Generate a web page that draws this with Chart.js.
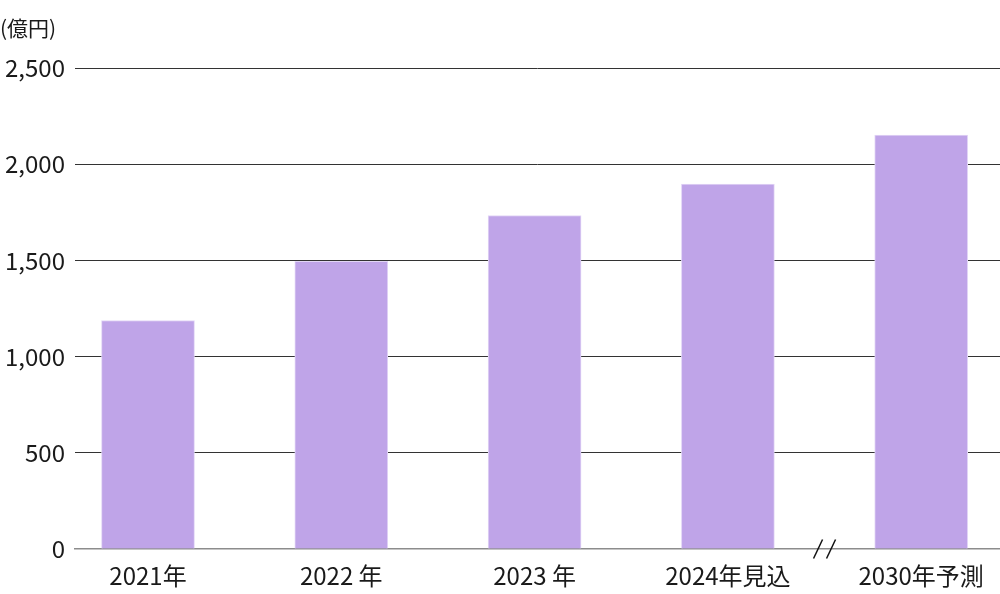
<!DOCTYPE html>
<html>
<head>
<meta charset="utf-8">
<script src="https://cdn.jsdelivr.net/npm/chart.js@4"></script>
<style>
  html, body { margin: 0; padding: 0; background: #fff; overflow: hidden; }
  #wrap { width: 1000px; height: 594px; position: relative; }
</style>
</head>
<body>
<div id="wrap"><canvas id="marketChart"></canvas></div>
<script>
var categories = ['2021年', '2022 年', '2023 年', '2024年見込', '2030年予測'];
var values = [1188, 1496, 1734, 1898, 2152];
var yTicks = [0, 500, 1000, 1500, 2000, 2500];
var unitLabel = '(億円)';

var FONT = "'Noto Sans CJK JP', 'Noto Sans', sans-serif";

// the little "//" mark between 2024 and 2030
var breakMark = {
    id: 'breakMark',
    afterDatasetsDraw: function (chart) {
        var ctx = chart.ctx;
        var cx = chart.scales.x.getPixelForValue(3.5);
        var cy = chart.scales.y.getPixelForValue(0);
        ctx.save();
        ctx.strokeStyle = '#111';
        ctx.lineWidth = 1.5;
        [-6.5, 6.5].forEach(function (dx) {
            ctx.beginPath();
            ctx.moveTo(cx + dx - 4.5, cy + 9.5);
            ctx.lineTo(cx + dx + 4.5, cy - 9.5);
            ctx.stroke();
        });
        ctx.restore();
    }
};

document.addEventListener('DOMContentLoaded', function () {
    var ctx = document.getElementById('marketChart').getContext('2d');

    new Chart(ctx, {
        type: 'bar',
        data: {
            datasets: [{
                data: values.map(function (v, i) { return { x: i, y: v }; }),
                backgroundColor: '#bfa4e8',
                borderColor: '#e2d6f6',
                borderWidth: 1,
                barThickness: 93
            }]
        },
        options: {
            responsive: true,
            maintainAspectRatio: false,
            animation: false,
            locale: 'en-US',
            layout: { padding: { left: 0, right: 0, top: 0, bottom: 0 } },
            plugins: {
                legend: { display: false },
                tooltip: { enabled: false },
                title: {
                    display: true,
                    text: unitLabel,
                    align: 'start',
                    color: '#1a1a1a',
                    font: { family: FONT, size: 21, weight: 'normal' },
                    padding: { top: 15, bottom: 28 }
                }
            },
            scales: {
                x: {
                    type: 'linear',
                    offset: false,
                    min: -0.3776,
                    max: 4.4077,
                    grid: { display: false, drawTicks: false },
                    border: { display: true, color: '#8c8c8c', width: 1.5 },
                    afterBuildTicks: function (axis) {
                        axis.ticks = categories.map(function (c, i) { return { value: i }; });
                    },
                    afterFit: function (axis) { axis.height = 45; },
                    ticks: {
                        padding: 12,
                        maxRotation: 0,
                        autoSkip: false,
                        color: '#1a1a1a',
                        font: { family: FONT, size: 24 },
                        callback: function (v) { return categories[v]; }
                    }
                },
                y: {
                    min: 0,
                    max: 2500,
                    afterBuildTicks: function (axis) {
                        axis.ticks = yTicks.map(function (t) { return { value: t }; });
                    },
                    afterFit: function (axis) { axis.width = 75; },
                    border: { display: false },
                    grid: {
                        drawTicks: false,
                        color: function (c) { return c.tick && c.tick.value === 0 ? 'rgba(0,0,0,0)' : '#333'; },
                        lineWidth: 1
                    },
                    ticks: {
                        padding: 10,
                        color: '#1a1a1a',
                        font: { family: FONT, size: 24 },
                        callback: function (v) { return v.toLocaleString('en-US'); }
                    }
                }
            }
        },
        plugins: [breakMark]
    });
});
</script>
</body>
</html>
